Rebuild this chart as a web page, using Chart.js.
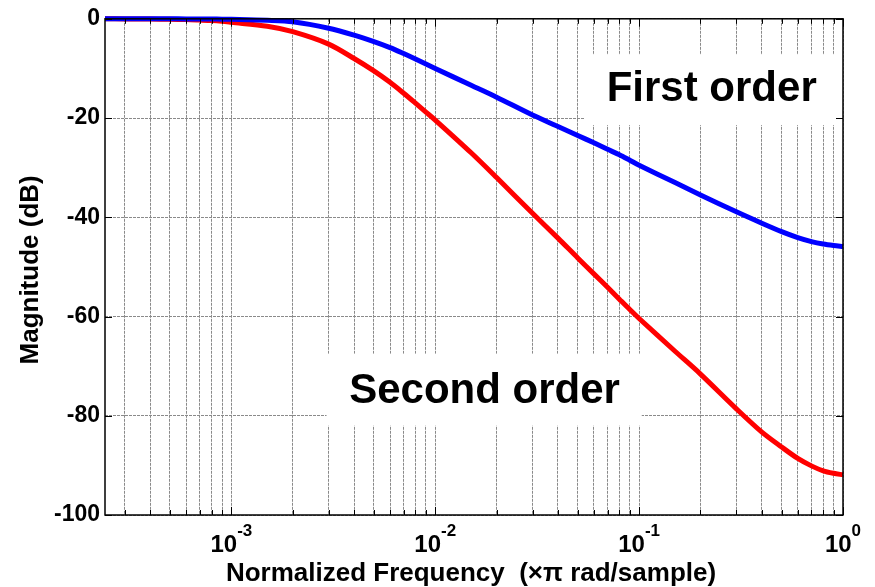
<!DOCTYPE html>
<html lang="en">
<head>
<meta charset="UTF-8">
<title>First vs second order magnitude response</title>
<script src="https://cdn.jsdelivr.net/npm/chart.js"></script>
<style>
  html, body { margin: 0; padding: 0; background: #fff; }
  #box { width: 875px; height: 587px; }
</style>
</head>
<body>
<div id="box"><canvas id="bode" width="875" height="587"></canvas></div>
<script>
// normalized frequency (x pi rad/sample)
const freqs = [2.4e-4, 3e-4, 4e-4, 5e-4, 6e-4, 7e-4, 8e-4, 9e-4,
  1e-3, 1.5e-3, 2e-3, 3e-3, 4e-3, 5e-3, 6e-3, 7e-3, 8e-3, 9e-3,
  1e-2, 1.5e-2, 2e-2, 3e-2, 4e-2, 5e-2, 6e-2, 7e-2, 8e-2, 9e-2,
  0.1, 0.15, 0.2, 0.3, 0.4, 0.5, 0.6, 0.7, 0.8, 0.9, 1.0];

// magnitude in dB
const firstOrder = [0, 0, 0, 0, -0.02, -0.03, -0.05, -0.07,
  -0.1, -0.3, -0.6, -1.9, -3.3, -4.6, -5.8, -7.0, -8.1, -9.1,
  -10.0, -13.4, -15.8, -19.4, -21.7, -23.5, -25.0, -26.3, -27.4, -28.5,
  -29.5, -33.0, -35.5, -38.9, -41.2, -42.9, -44.1, -44.9, -45.4, -45.7, -45.9];

const secondOrder = [0, -0.02, -0.05, -0.1, -0.15, -0.25, -0.35, -0.5,
  -0.7, -1.5, -2.6, -5.1, -8.0, -10.5, -12.8, -15.0, -17.0, -18.8,
  -20.4, -27.0, -32.0, -39.2, -44.2, -48.2, -51.4, -54.1, -56.5, -58.6,
  -60.4, -67.0, -71.6, -78.6, -83.3, -86.3, -88.6, -90.1, -91.1, -91.6, -91.9];

const decadeTicks = [1e-3, 1e-2, 1e-1, 1];
const decadeExps = ['-3', '-2', '-1', '0'];
const yTicks = [0, -20, -40, -60, -80, -100];

const xMin = 2.4e-4, xMax = 1;
const FONT = "'Liberation Sans', Arial, Helvetica, sans-serif";

// grid positions: 1..9 per decade
const gridVals = [];
for (let e = -4; e <= 0; e++) {
  for (let m = 1; m <= 9; m++) {
    const v = m * Math.pow(10, e);
    if (v >= xMin * 1.0001 && v <= xMax * 1.0001) gridVals.push(v);
  }
}

// text boxes (white background hides the grid behind them)
const notes = [
  { text: 'First order',  x: 0.227, y: -14.2, box: [0.054, 0.955, -7.2, -21.4] },
  { text: 'Second order', x: 0.01746, y: -75.0, box: [0.00293, 0.103, -67.5, -82.0] }
];

const decor = {
  id: 'decor',
  beforeDatasetsDraw(chart) {
    const ctx = chart.ctx, xs = chart.scales.x, ys = chart.scales.y;
    ctx.save();
    ctx.fillStyle = '#fff';
    notes.forEach(n => {
      const l = xs.getPixelForValue(n.box[0]), r = xs.getPixelForValue(n.box[1]);
      const t = ys.getPixelForValue(n.box[2]), b = ys.getPixelForValue(n.box[3]);
      ctx.fillRect(l, t, r - l, b - t);
    });
    ctx.restore();
  },
  afterDraw(chart) {
    const ctx = chart.ctx, xs = chart.scales.x, ys = chart.scales.y;
    const a = chart.chartArea;
    ctx.save();

    // inward tick marks on all four sides
    ctx.strokeStyle = '#000';
    ctx.lineWidth = 1;
    ctx.beginPath();
    gridVals.forEach(v => {
      const px = Math.round(xs.getPixelForValue(v)) + 0.5;
      const len = decadeTicks.includes(v) ? 8 : 5;
      ctx.moveTo(px, a.bottom); ctx.lineTo(px, a.bottom - len);
      ctx.moveTo(px, a.top); ctx.lineTo(px, a.top + len);
    });
    yTicks.forEach(v => {
      const py = Math.round(ys.getPixelForValue(v)) + 0.5;
      ctx.moveTo(a.left, py); ctx.lineTo(a.left + 7, py);
      ctx.moveTo(a.right, py); ctx.lineTo(a.right - 7, py);
    });
    ctx.stroke();

    // axes box
    ctx.lineWidth = 1.5;
    ctx.strokeRect(a.left, a.top, a.right - a.left, a.bottom - a.top);

    // annotations
    ctx.fillStyle = '#000';
    ctx.font = 'bold 42px ' + FONT;
    ctx.textAlign = 'center';
    ctx.textBaseline = 'middle';
    notes.forEach(n => {
      ctx.fillText(n.text, xs.getPixelForValue(n.x), ys.getPixelForValue(n.y));
    });

    // x tick labels 10^n
    ctx.textBaseline = 'alphabetic';
    ctx.textAlign = 'left';
    decadeTicks.forEach((v, i) => {
      const px = xs.getPixelForValue(v);
      ctx.font = 'bold 24px ' + FONT;
      const wBase = ctx.measureText('10').width;
      ctx.font = 'bold 17px ' + FONT;
      const wExp = ctx.measureText(decadeExps[i]).width;
      const x0 = px - (wBase + wExp) / 2;
      ctx.font = 'bold 24px ' + FONT;
      ctx.fillText('10', x0, 552);
      ctx.font = 'bold 17px ' + FONT;
      ctx.fillText(decadeExps[i], x0 + wBase, 536);
    });

    // axis titles
    ctx.font = 'bold 26px ' + FONT;
    ctx.textAlign = 'center';
    ctx.fillText('Normalized Frequency  (\u00d7\u03c0 rad/sample)', 471, 581);
    ctx.translate(31, (a.top + a.bottom) / 2 + 3);
    ctx.rotate(-Math.PI / 2);
    ctx.textBaseline = 'middle';
    ctx.fillText('Magnitude (dB)', 0, 0);
    ctx.restore();
  }
};

const toPts = vals => freqs.map((f, i) => ({ x: f, y: vals[i] }));

new Chart(document.getElementById('bode'), {
  type: 'line',
  data: {
    datasets: [
      { label: 'First order', data: toPts(firstOrder), borderColor: '#0000ff',
        borderWidth: 5, pointRadius: 0, tension: 0.3, clip: 4 },
      { label: 'Second order', data: toPts(secondOrder), borderColor: '#ff0000',
        borderWidth: 5, pointRadius: 0, tension: 0.3, clip: 4 }
    ]
  },
  options: {
    responsive: false,
    animation: false,
    layout: { padding: { top: 16, right: 32, left: 0, bottom: 0 } },
    plugins: { legend: { display: false }, tooltip: { enabled: false } },
    scales: {
      x: {
        type: 'logarithmic',
        min: xMin, max: xMax,
        afterBuildTicks: s => { s.ticks = gridVals.map(v => ({ value: v })); },
        afterFit: s => { s.height = 72; },
        ticks: { display: false },
        grid: { color: '#8a8a8a', lineWidth: 1, drawTicks: false },
        border: { display: false, dash: [3, 1] }
      },
      y: {
        min: -100, max: 0,
        afterBuildTicks: s => { s.ticks = yTicks.map(v => ({ value: v })); },
        afterFit: s => { s.width = 105; },
        ticks: { color: '#000', padding: 5, font: { family: FONT, size: 23, weight: 'bold' } },
        grid: { color: '#8a8a8a', lineWidth: 1, drawTicks: false },
        border: { display: false, dash: [3, 1] }
      }
    }
  },
  plugins: [decor]
});
</script>
</body>
</html>
